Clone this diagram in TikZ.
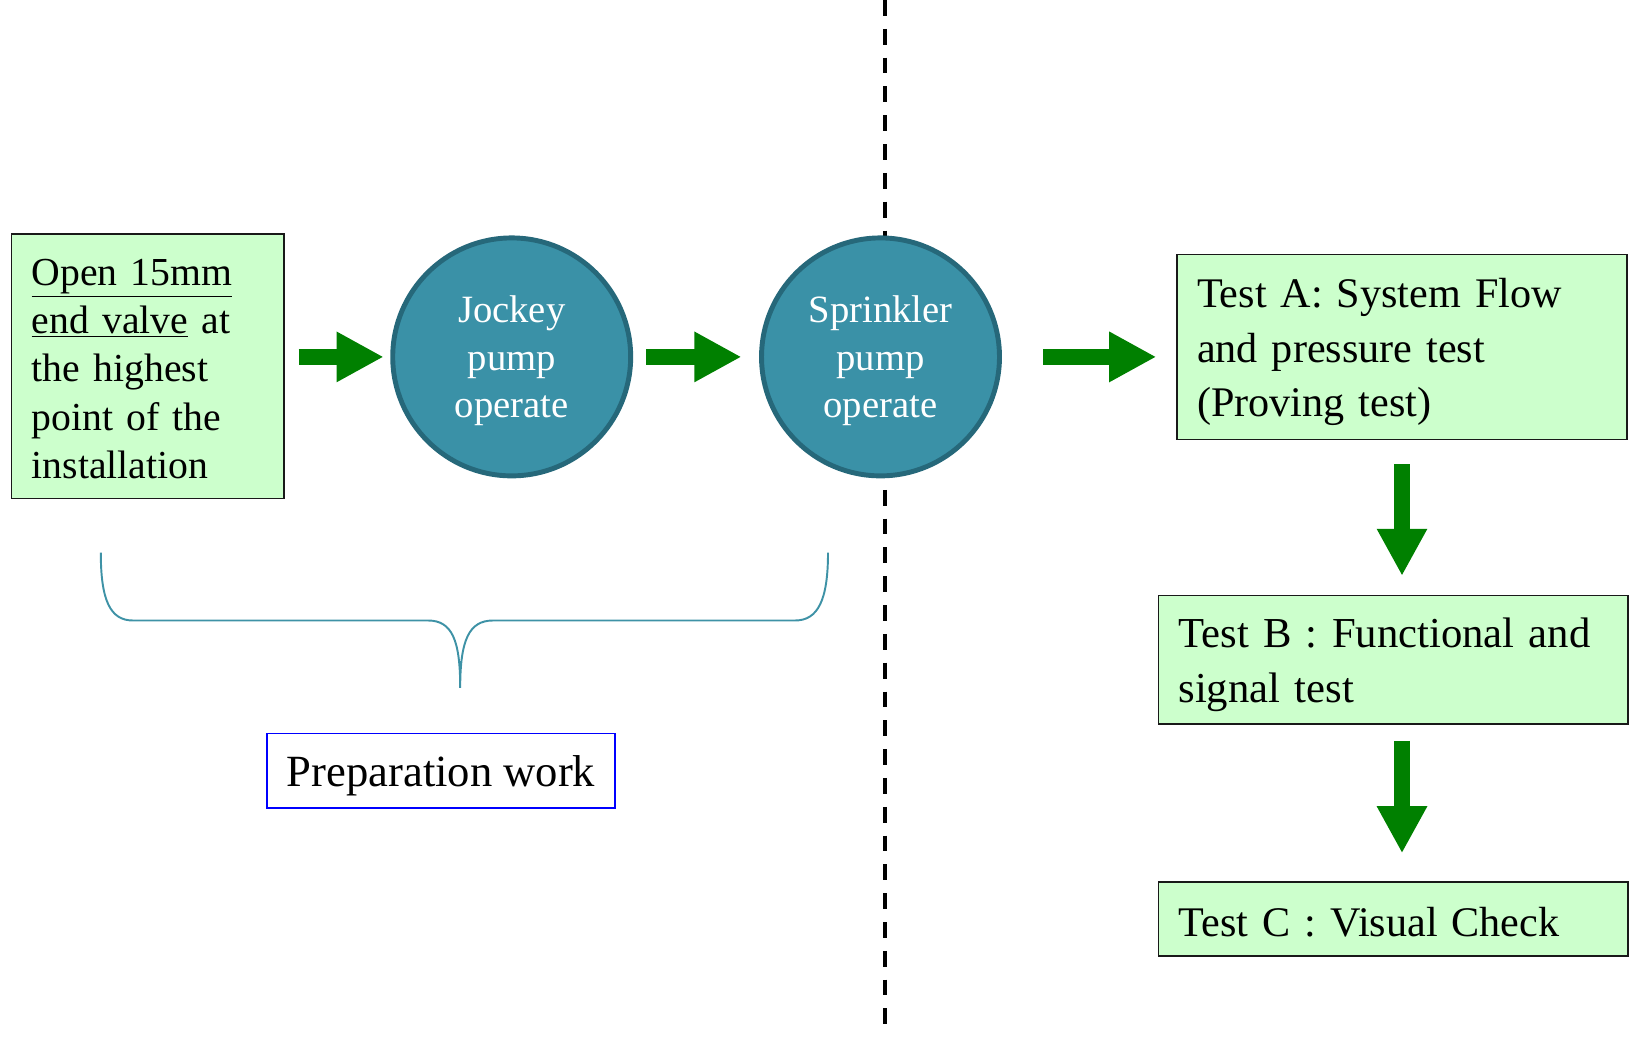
\documentclass[tikz,border=0pt]{standalone}
\usepackage{fontspec}
\setmainfont{Liberation Serif}
\usepackage{xcolor}
\usetikzlibrary{arrows.meta}

\definecolor{boxgreen}{RGB}{204,255,204}
\definecolor{arrowgreen}{RGB}{0,128,0}
\definecolor{pumpfill}{RGB}{58,145,167}
\definecolor{pumpline}{RGB}{38,104,122}
\definecolor{bracecol}{RGB}{62,146,166}

\tikzset{
  firstline/.style={execute at begin node={\rule{0pt}{#1}}},
  greenbox/.style={draw=black!90, line width=0.85pt, fill=boxgreen,
    rectangle, align=left, inner xsep=0.4cm, inner ysep=0pt},
  pump/.style={circle, draw=pumpline, line width=2.8pt, fill=pumpfill,
    text=white, align=center, text width=3cm, minimum size=4.76cm, inner sep=0pt,
    font=\fontsize{22}{27.2}\selectfont, firstline=19.8pt},
  flow/.style={arrowgreen, line width=9.1pt,
    -{Triangle[length=26.8pt,width=26.8pt]}},
}

\begin{document}
\begin{tikzpicture}[x=0.02cm, y=-0.02cm]
  \useasboundingbox (0,0) rectangle (1629,1037);

  % divider between preparation and tests
  \draw[black, line width=2.2pt, dash pattern=on 9pt off 7.4pt] (885,0) -- (885,1037);

  % preparation steps
  \node[greenbox, text width=4.646cm, minimum height=5.294cm, firstline=17.8pt,
        font=\fontsize{22.6}{27.5}\selectfont] (valve) at (147.85,366.35)
    {\underline{Open 15mm}\\ \underline{end valve} at\\ the highest\\ point of the\\ installation};
  \node[pump] (jockey) at (511.7,356.9) {Jockey\\ pump\\ operate};
  \node[pump] (sprinkler) at (880.5,356.9) {Sprinkler\\ pump\\ operate};

  % tests
  \node[greenbox, text width=8.2cm, minimum height=3.7cm, firstline=22.4pt,
        font=\fontsize{24}{31}\selectfont] (testA) at (1402,347)
    {Test A: System Flow\\ and pressure test\\ (Proving test)};
  \node[greenbox, text width=8.592cm, minimum height=2.576cm, firstline=22.4pt,
        font=\fontsize{24.3}{31}\selectfont] (testB) at (1393.2,659.7)
    {Test B : Functional and\\ signal test};
  \node[greenbox, text width=8.592cm, minimum height=1.476cm, firstline=20pt,
        font=\fontsize{24}{31}\selectfont] (testC) at (1393.2,918.9)
    {Test C : Visual Check};

  % green arrows
  \draw[flow, shorten <=0.28cm, shorten >=0.132cm] (valve.east |- jockey.west) -- (jockey.west);
  \draw[flow, shorten <=0.266cm, shorten >=0.352cm] (jockey.east) -- (sprinkler.west);
  \draw[flow, shorten <=0.83cm, shorten >=0.4cm] (sprinkler.east) -- (sprinkler.east -| testA.west);
  \draw[flow, shorten <=0.48cm, shorten >=0.374cm] (testA.south) -- (testA.south |- testB.north);
  \draw[flow, shorten <=0.32cm, shorten >=0.56cm] (testA.south |- testB.south) -- (testA.south |- testC.north);

  % brace under the preparation steps
  \draw[bracecol, line width=1.1pt]
    (100.8,552.7) .. controls (100.8,600) and (110,620.5) .. (133,620.5)
    -- (428,620.5) .. controls (452,620.5) and (460.2,640) .. (460.2,687.8)
    .. controls (460.2,640) and (469,620.5) .. (493,620.5)
    -- (795,620.5) .. controls (818,620.5) and (828,600) .. (828,552.7);

  \node[draw=blue, line width=1.1pt, fill=white, minimum width=6.96cm,
        minimum height=1.496cm, firstline=23.3pt,
        font=\fontsize{25.4}{31}\selectfont] (prep) at (441,770.9)
    {Preparation work};
\end{tikzpicture}
\end{document}
